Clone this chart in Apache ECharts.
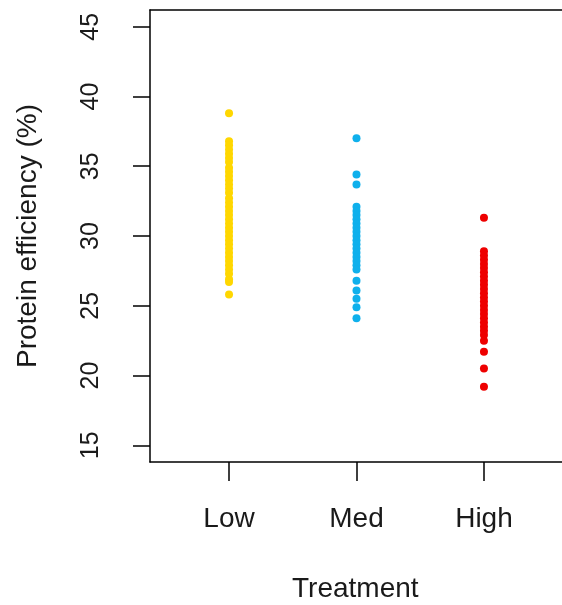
<!DOCTYPE html>
<html><head><meta charset="utf-8">
<script src="https://cdn.jsdelivr.net/npm/echarts@6/dist/echarts.min.js"></script>
<style>html,body{margin:0;padding:0;background:#fff}#c{width:562px;height:605px}</style>
</head><body><div id="c"></div>
<script>
var categories = ["Low", "Med", "High"];
var colors = ["#FFD700", "#0FB0EC", "#EE0000"];
var lowValues = [38.8, 36.8, 36.5, 36.2, 35.9, 35.6, 35.3, 34.9, 34.6, 34.3, 34.0, 33.7, 33.4, 33.1, 32.7, 32.4, 32.1, 31.8, 31.5, 31.2, 30.9, 30.6, 30.3, 30.0, 29.7, 29.4, 29.1, 28.8, 28.5, 28.2, 27.9, 27.6, 27.3, 26.9, 26.7, 25.8];
var medValues = [37.0, 34.4, 33.7, 32.1, 31.8, 31.5, 31.2, 30.9, 30.6, 30.3, 30.0, 29.7, 29.4, 29.1, 28.8, 28.5, 28.2, 27.9, 27.6, 26.8, 26.1, 25.5, 24.9, 24.1];
var highValues = [31.3, 28.9, 28.6, 28.3, 28.0, 27.7, 27.4, 27.1, 26.8, 26.5, 26.2, 25.9, 25.6, 25.3, 25.0, 24.7, 24.4, 24.1, 23.8, 23.5, 23.2, 22.9, 22.5, 21.7, 20.5, 19.2];
var yTicks = [15, 20, 25, 30, 35, 40, 45];
var xTicks = [1, 2, 3];

var groups = [lowValues, medValues, highValues];
var font = "'Liberation Sans', Arial, sans-serif";
var textColor = "#1a1a1a";
var chart = echarts.init(document.getElementById('c'));
chart.setOption({
  animation: false,
  backgroundColor: '#fff',
  grid: { left: 150, top: 10, right: -8, bottom: 143, outerBoundsMode: 'none', containLabel: false, show: false },
  title: {
    text: 'Treatment', left: 287, top: 570,
    textStyle: { fontFamily: font, fontSize: 28, fontWeight: 'normal', color: textColor }
  },
  xAxis: [{
    type: 'value', min: 0.38, max: 3.675,
    axisLine: { show: true, lineStyle: { color: '#000', width: 1.5 } },
    axisTick: { show: true, length: 19, customValues: xTicks, lineStyle: { color: '#000', width: 1.5 } },
    axisLabel: { customValues: xTicks, margin: 43, fontFamily: font, fontSize: 28, color: textColor,
      formatter: function (v) { return categories[Math.round(v) - 1] || ''; } },
    splitLine: { show: false }
  }, {
    type: 'value', position: 'top', min: 0.38, max: 3.675,
    axisLine: { show: true, onZero: false, lineStyle: { color: '#000', width: 1.5 } },
    axisTick: { show: false }, axisLabel: { show: false }, splitLine: { show: false }
  }],
  yAxis: {
    type: 'value', min: 13.8, max: 46.2,
    name: 'Protein efficiency (%)', nameLocation: 'middle', nameGap: 108, nameRotate: 90,
    nameTextStyle: { fontFamily: font, fontSize: 28, color: textColor },
    axisLine: { show: true, lineStyle: { color: '#000', width: 1.5 } },
    axisTick: { show: true, length: 17, customValues: yTicks, lineStyle: { color: '#000', width: 1.5 } },
    axisLabel: { customValues: yTicks, rotate: 90, margin: 46, fontFamily: font, fontSize: 25, color: textColor },
    splitLine: { show: false }
  },
  series: groups.map(function (vals, i) {
    return {
      type: 'scatter', name: categories[i], symbol: 'circle', symbolSize: 8,
      xAxisIndex: 0,
      itemStyle: { color: colors[i], opacity: 1 },
      data: vals.map(function (v) { return [xTicks[i], v]; })
    };
  })
});
</script></body></html>
